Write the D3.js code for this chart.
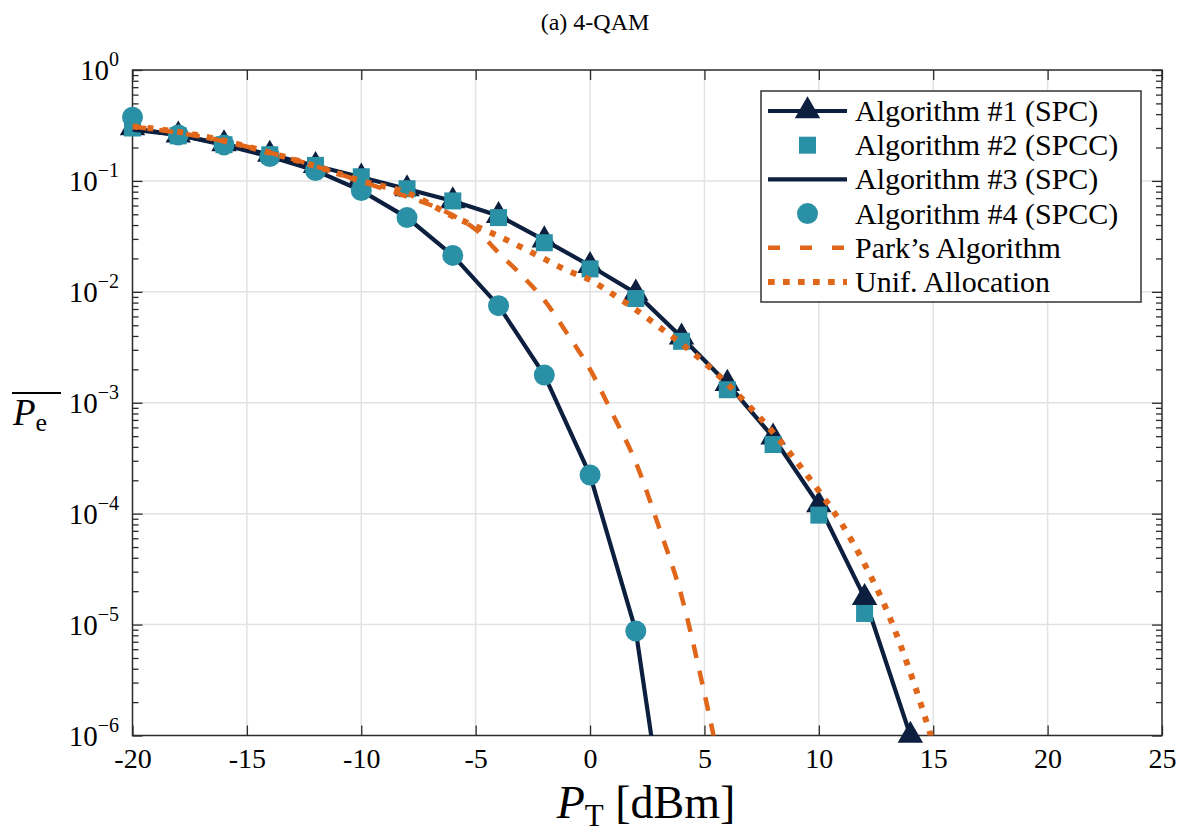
<!DOCTYPE html>
<html>
<head>
<meta charset="utf-8">
<script src="https://cdn.jsdelivr.net/npm/d3@7"></script>
<style>
  body { margin: 0; background: #fff; }
  text { font-family: "Liberation Serif", "Times New Roman", serif; fill: #000; }
</style>
</head>
<body>
<svg id="chart" width="1190" height="833"></svg>
<script>
// data
const xTickVals = [-20, -15, -10, -5, 0, 5, 10, 15, 20, 25];
const yTickVals = [1e-6, 1e-5, 1e-4, 1e-3, 1e-2, 1e-1, 1];
const yTickExp = ["\u22126", "\u22125", "\u22124", "\u22123", "\u22122", "\u22121", "0"];

const alg1X = [-20, -18, -16, -14, -12, -10, -8, -6, -4, -2, 0, 2, 4, 6, 8, 10, 12, 14];
const alg1Y = [0.30, 0.258, 0.216, 0.173, 0.137, 0.108, 0.0846, 0.066, 0.0486, 0.0293, 0.0172, 0.0097, 0.0039, 0.00149, 4.9e-4, 1.2e-4, 1.75e-5, 1.0e-6];

const alg2X = [-20, -18, -16, -14, -12, -10, -8, -6, -4, -2, 0, 2, 4, 6, 8, 10, 12];
const alg2Y = [0.30, 0.255, 0.212, 0.172, 0.138, 0.109, 0.085, 0.066, 0.0467, 0.0277, 0.0161, 0.0087, 0.00358, 0.00131, 4.2e-4, 9.7e-5, 1.26e-5];

const alg3X = [-20, -18, -16, -14, -12, -10, -8, -6, -4, -2, 0, 2, 4];
const alg3Y = [0.29, 0.26, 0.211, 0.166, 0.124, 0.0818, 0.0467, 0.0213, 0.0075, 0.00178, 2.23e-4, 8.75e-6, 1.4e-8];

const alg4X = [-20, -18, -16, -14, -12, -10, -8, -6, -4, -2, 0, 2];
const alg4Y = [0.375, 0.26, 0.211, 0.166, 0.124, 0.0818, 0.0467, 0.0213, 0.0075, 0.00178, 2.23e-4, 8.75e-6];

const parkX = [-20, -18, -16, -14, -12, -10, -8, -7, -6, -5, -4, -3, -2, -1, 0, 1, 2, 3, 4, 5, 6];
const parkY = [0.31, 0.272, 0.228, 0.18, 0.136, 0.099, 0.072, 0.061, 0.049, 0.0365, 0.0225, 0.0142, 0.0084, 0.0042, 0.0020, 7.8e-4, 2.9e-4, 7.7e-5, 1.8e-5, 2.4e-6, 2.5e-7];

const unifX = [-20, -18, -16, -14, -12, -10, -8, -6, -4, -2, -1, 0, 1, 2, 3, 4, 5, 6, 7, 8, 9, 10, 11, 12, 13, 14, 15];
const unifY = [0.31, 0.277, 0.23, 0.18, 0.136, 0.1, 0.078, 0.048, 0.0318, 0.0198, 0.0156, 0.0128, 0.0095, 0.0069, 0.00486, 0.0034, 0.0023, 0.00148, 9.1e-4, 5.4e-4, 3.0e-4, 1.6e-4, 8.1e-5, 3.5e-5, 1.3e-5, 3.7e-6, 8.5e-7];

const legendLabels = ["Algorithm #1 (SPC)", "Algorithm #2 (SPCC)", "Algorithm #3 (SPC)", "Algorithm #4 (SPCC)", "Park\u2019s Algorithm", "Unif. Allocation"];

const navy = "#0c1f3e";
const teal = "#2990a6";
const orange = "#e0661a";

const svg = d3.select("#chart");
const pLeft = 132.5, pRight = 1162, pTop = 70, pBottom = 735.5;

const x = d3.scaleLinear().domain([-20, 25]).range([pLeft, pRight]);
const y = d3.scaleLog().domain([1e-6, 1]).range([pBottom, pTop]);

const zip = (xs, ys) => xs.map((d, i) => [d, ys[i]]);

// grid
const grid = svg.append("g").attr("stroke", "#e2e2e2").attr("stroke-width", 1.5);
grid.selectAll(".gx").data(xTickVals.slice(1, -1)).join("line").attr("class", "gx")
  .attr("x1", d => x(d)).attr("x2", d => x(d)).attr("y1", pTop).attr("y2", pBottom);
grid.selectAll(".gy").data(yTickVals.slice(1, -1)).join("line").attr("class", "gy")
  .attr("y1", d => y(d)).attr("y2", d => y(d)).attr("x1", pLeft).attr("x2", pRight);

// axes (ticks point inward)
const axisColor = "#2b2b2b";
function styleAxis(g) {
  g.select(".domain").remove();
  g.selectAll(".tick line").attr("stroke", axisColor).attr("stroke-width", 1.3);
}
svg.append("g").attr("transform", `translate(0,${pBottom})`)
  .call(d3.axisBottom(x).tickValues(xTickVals).tickSizeInner(-10).tickSizeOuter(0).tickPadding(13).tickFormat(d => String(d)))
  .call(styleAxis)
  .call(g => g.selectAll("text").attr("font-size", 28).attr("fill", "#000"));
svg.append("g").attr("transform", `translate(0,${pTop})`)
  .call(d3.axisTop(x).tickValues(xTickVals).tickSizeInner(-10).tickSizeOuter(0).tickFormat(""))
  .call(styleAxis);

const minorVals = y.ticks().filter(d => Math.abs(Math.log10(d) - Math.round(Math.log10(d))) > 1e-6);
svg.append("g").attr("transform", `translate(${pLeft},0)`)
  .call(d3.axisLeft(y).tickValues(yTickVals).tickSizeInner(-10).tickSizeOuter(0).tickFormat(""))
  .call(styleAxis);
svg.append("g").attr("transform", `translate(${pLeft},0)`)
  .call(d3.axisLeft(y).tickValues(minorVals).tickSizeInner(-6).tickSizeOuter(0).tickFormat(""))
  .call(styleAxis);
svg.append("g").attr("transform", `translate(${pRight},0)`)
  .call(d3.axisRight(y).tickValues(yTickVals).tickSizeInner(-10).tickSizeOuter(0).tickFormat(""))
  .call(styleAxis);
svg.append("g").attr("transform", `translate(${pRight},0)`)
  .call(d3.axisRight(y).tickValues(minorVals).tickSizeInner(-6).tickSizeOuter(0).tickFormat(""))
  .call(styleAxis);

// y tick labels 10^k
const yl = svg.append("g").selectAll("text").data(yTickVals).join("text")
  .attr("x", 119).attr("y", d => y(d) + 10)
  .attr("text-anchor", "end").attr("font-size", 29);
yl.append("tspan").text("10");
yl.append("tspan").attr("dy", -14).attr("font-size", 20).text((d, i) => yTickExp[i]);

// box
svg.append("rect").attr("x", pLeft).attr("y", pTop).attr("width", pRight - pLeft).attr("height", pBottom - pTop)
  .attr("fill", "none").attr("stroke", axisColor).attr("stroke-width", 1.5);

// clip for lines
svg.append("clipPath").attr("id", "clip").append("rect")
  .attr("x", pLeft).attr("y", pTop).attr("width", pRight - pLeft).attr("height", pBottom - pTop);
const inside = d => d[1] >= 1e-6 && d[1] <= 1;

const line = d3.line().x(d => x(d[0])).y(d => y(d[1]));
const smooth = d3.line().x(d => x(d[0])).y(d => y(d[1])).curve(d3.curveMonotoneX);

const triangle = d3.symbol().type(d3.symbolTriangle).size(280);

// Algorithm #1: line + triangles
const a1 = svg.append("g");
a1.append("path").datum(zip(alg1X, alg1Y)).attr("clip-path", "url(#clip)")
  .attr("d", line).attr("fill", "none").attr("stroke", navy).attr("stroke-width", 4.2);
a1.selectAll("path.tri").data(zip(alg1X, alg1Y).filter(inside)).join("path").attr("class", "tri")
  .attr("d", triangle).attr("transform", d => `translate(${x(d[0])},${y(d[1])})`).attr("fill", navy);

// Algorithm #2: squares
svg.append("g").selectAll("rect").data(zip(alg2X, alg2Y).filter(inside)).join("rect")
  .attr("x", d => x(d[0]) - 8.5).attr("y", d => y(d[1]) - 8.5).attr("width", 17).attr("height", 17)
  .attr("fill", teal);

// Algorithm #3: line
svg.append("path").datum(zip(alg3X, alg3Y)).attr("clip-path", "url(#clip)")
  .attr("d", line).attr("fill", "none").attr("stroke", navy).attr("stroke-width", 4.2);

// Algorithm #4: circles
svg.append("g").selectAll("circle").data(zip(alg4X, alg4Y).filter(inside)).join("circle")
  .attr("cx", d => x(d[0])).attr("cy", d => y(d[1])).attr("r", 10.5).attr("fill", teal);

// Park's algorithm: dashed
svg.append("path").datum(zip(parkX, parkY)).attr("clip-path", "url(#clip)")
  .attr("d", smooth).attr("fill", "none").attr("stroke", orange).attr("stroke-width", 4.5)
  .attr("stroke-dasharray", "14,13");

// Uniform allocation: dotted
svg.append("path").datum(zip(unifX, unifY)).attr("clip-path", "url(#clip)")
  .attr("d", smooth).attr("fill", "none").attr("stroke", orange).attr("stroke-width", 6)
  .attr("stroke-dasharray", "6,9");

// legend
const lg = svg.append("g");
lg.append("rect").attr("x", 761).attr("y", 91).attr("width", 380).attr("height", 211)
  .attr("fill", "#fff").attr("stroke", "#333").attr("stroke-width", 1.5);
const rowY = i => 111 + i * 34.2;
const lx1 = 768, lx2 = 847, lmid = 807.5;
lg.append("line").attr("x1", lx1).attr("x2", lx2).attr("y1", rowY(0)).attr("y2", rowY(0))
  .attr("stroke", navy).attr("stroke-width", 4.2);
lg.append("path").attr("d", triangle).attr("transform", `translate(${lmid},${rowY(0)})`).attr("fill", navy);
lg.append("rect").attr("x", lmid - 8.5).attr("y", rowY(1) - 8.5).attr("width", 17).attr("height", 17).attr("fill", teal);
lg.append("line").attr("x1", lx1).attr("x2", lx2).attr("y1", rowY(2)).attr("y2", rowY(2))
  .attr("stroke", navy).attr("stroke-width", 4.2);
lg.append("circle").attr("cx", lmid).attr("cy", rowY(3)).attr("r", 10.5).attr("fill", teal);
lg.append("line").attr("x1", lx1).attr("x2", lx2).attr("y1", rowY(4)).attr("y2", rowY(4))
  .attr("stroke", orange).attr("stroke-width", 4.5).attr("stroke-dasharray", "12,20");
lg.append("line").attr("x1", lx1).attr("x2", lx2).attr("y1", rowY(5)).attr("y2", rowY(5))
  .attr("stroke", orange).attr("stroke-width", 6).attr("stroke-dasharray", "6.7,8.3");
lg.selectAll("text").data(legendLabels).join("text")
  .attr("x", 855).attr("y", (d, i) => rowY(i) + 10).attr("font-size", 30).text(d => d);

// title and axis labels
svg.append("text").attr("x", 595).attr("y", 30).attr("text-anchor", "middle").attr("font-size", 24).text("(a) 4-QAM");

const xl = svg.append("text").attr("x", 646).attr("y", 818).attr("text-anchor", "middle").attr("font-size", 46);
xl.append("tspan").attr("font-style", "italic").text("P");
xl.append("tspan").attr("dy", 8).attr("font-size", 31).text("T");
xl.append("tspan").attr("dy", -8).text(" [dBm]");

const ylab = svg.append("text").attr("x", 13).attr("y", 425).attr("font-size", 37);
ylab.append("tspan").attr("font-style", "italic").text("P");
ylab.append("tspan").attr("dy", 6).attr("font-size", 26).text("e");
svg.append("line").attr("x1", 12).attr("x2", 61).attr("y1", 393).attr("y2", 393)
  .attr("stroke", "#000").attr("stroke-width", 2);
</script>
</body>
</html>
